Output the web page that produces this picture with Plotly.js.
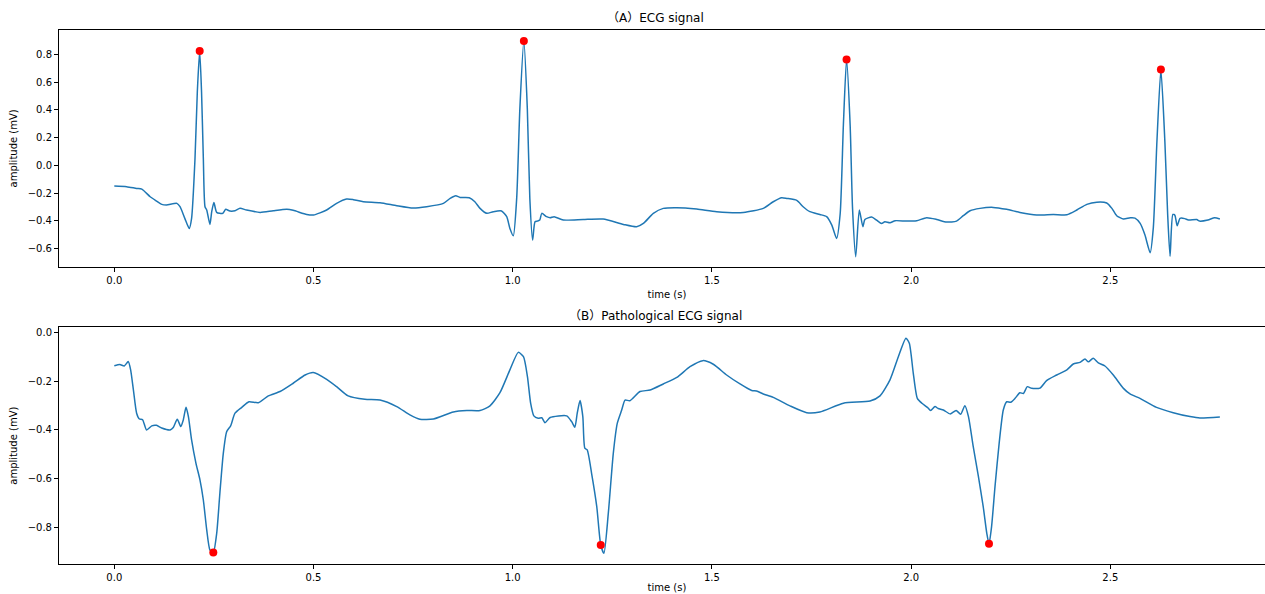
<!DOCTYPE html>
<html>
<head>
<meta charset="utf-8">
<script src="https://cdn.plot.ly/plotly-3.0.1.min.js"></script>
<style>
  html, body { margin: 0; padding: 0; overflow: hidden; background: #fff; }
  #chart { width: 1300px; height: 620px; }
</style>
</head>
<body>
<div id="chart"></div>
<script>
// ---- Data ----
const ecgTime = [0, 0.031, 0.056, 0.069, 0.090, 0.106, 0.119, 0.131, 0.157, 0.165,
  0.177, 0.188, 0.194, 0.2026, 0.2084, 0.2143, 0.219, 0.2235, 0.2277, 0.232,
  0.240, 0.2445, 0.250, 0.257, 0.272, 0.2796, 0.290, 0.303, 0.3155, 0.332,
  0.366, 0.399, 0.433, 0.449, 0.483, 0.500, 0.533, 0.558, 0.583, 0.600,
  0.625, 0.667, 0.709, 0.750, 0.784, 0.826, 0.843, 0.857, 0.868, 0.891,
  0.905, 0.918, 0.935, 0.951, 0.972, 0.985, 0.993, 1.0015, 1.010, 1.018,
  1.028, 1.0367, 1.043, 1.050, 1.056, 1.062, 1.068, 1.073, 1.085, 1.094,
  1.104, 1.127, 1.177, 1.227, 1.278, 1.311, 1.328, 1.353, 1.378, 1.412,
  1.462, 1.512, 1.579, 1.629, 1.654, 1.675, 1.688, 1.713, 1.729, 1.746,
  1.771, 1.788, 1.801, 1.813, 1.822, 1.830, 1.838, 1.847, 1.853, 1.861,
  1.870, 1.879, 1.884, 1.901, 1.913, 1.926, 1.934, 1.947, 1.960, 1.989,
  2.014, 2.039, 2.064, 2.089, 2.114, 2.131, 2.148, 2.173, 2.206, 2.240,
  2.273, 2.315, 2.357, 2.391, 2.416, 2.441, 2.466, 2.491, 2.504, 2.516,
  2.533, 2.550, 2.562, 2.575, 2.587, 2.600, 2.608, 2.617, 2.627, 2.637,
  2.644, 2.650, 2.657, 2.662, 2.668, 2.675, 2.687, 2.696, 2.717, 2.724,
  2.745, 2.762, 2.775];
const ecgAmp = [-0.150, -0.154, -0.167, -0.172, -0.227, -0.258, -0.282, -0.287, -0.275, -0.299,
  -0.383, -0.456, -0.383, 0.05, 0.53, 0.826, 0.53, 0.05, -0.299, -0.323,
  -0.427, -0.335, -0.268, -0.340, -0.347, -0.318, -0.330, -0.328, -0.311, -0.323,
  -0.340, -0.328, -0.318, -0.325, -0.355, -0.359, -0.323, -0.275, -0.244, -0.248,
  -0.263, -0.270, -0.292, -0.309, -0.299, -0.275, -0.239, -0.220, -0.232, -0.234,
  -0.263, -0.311, -0.347, -0.335, -0.330, -0.371, -0.456, -0.509, -0.239, 0.41,
  0.899, 0.41, -0.239, -0.540, -0.408, -0.403, -0.395, -0.347, -0.371, -0.379,
  -0.371, -0.395, -0.391, -0.388, -0.427, -0.444, -0.420, -0.347, -0.311, -0.306,
  -0.316, -0.335, -0.340, -0.311, -0.263, -0.234, -0.239, -0.253, -0.299, -0.335,
  -0.355, -0.371, -0.432, -0.528, -0.35, 0.29, 0.764, 0.29, -0.311, -0.660,
  -0.323, -0.444, -0.391, -0.374, -0.395, -0.420, -0.408, -0.415, -0.400, -0.403,
  -0.400, -0.379, -0.391, -0.410, -0.403, -0.364, -0.328, -0.311, -0.304, -0.318,
  -0.340, -0.359, -0.355, -0.357, -0.323, -0.282, -0.266, -0.272, -0.311, -0.364,
  -0.388, -0.379, -0.381, -0.420, -0.504, -0.631, -0.45, 0.17, 0.692, 0.17,
  -0.355, -0.658, -0.355, -0.360, -0.437, -0.383, -0.385, -0.395, -0.392, -0.403,
  -0.395, -0.379, -0.388];
const peakTime = [0.2143, 1.028, 1.838, 2.627];
const peakAmp = [0.826, 0.899, 0.764, 0.692];

const pathTime = [0, 0.014, 0.025, 0.035, 0.041, 0.048, 0.056, 0.063, 0.071, 0.081,
  0.094, 0.106, 0.119, 0.140, 0.148, 0.158, 0.167, 0.173, 0.180, 0.186,
  0.194, 0.205, 0.215, 0.2235, 0.232, 0.240, 0.2485, 0.257, 0.265, 0.2736,
  0.282, 0.292, 0.303, 0.320, 0.338, 0.3615, 0.3866, 0.416, 0.449, 0.479,
  0.4995, 0.533, 0.558, 0.587, 0.629, 0.667, 0.709, 0.742, 0.767, 0.801,
  0.851, 0.885, 0.918, 0.943, 0.968, 0.993, 1.014, 1.027, 1.037, 1.045,
  1.053, 1.064, 1.073, 1.081, 1.094, 1.1355, 1.148, 1.156, 1.162, 1.169,
  1.176, 1.181, 1.187, 1.198, 1.211, 1.221, 1.229, 1.240, 1.2525, 1.2626,
  1.2736, 1.282, 1.294, 1.3195, 1.345, 1.378, 1.412, 1.445, 1.477, 1.5035,
  1.537, 1.5706, 1.600, 1.612, 1.629, 1.654, 1.696, 1.738, 1.771, 1.830,
  1.897, 1.922, 1.947, 1.968, 1.987, 1.9955, 2.0055, 2.0156, 2.027, 2.041,
  2.049, 2.060, 2.068, 2.081, 2.098, 2.113, 2.1245, 2.135, 2.144, 2.156,
  2.169, 2.181, 2.190, 2.1955, 2.202, 2.2106, 2.221, 2.2314, 2.240, 2.250,
  2.261, 2.273, 2.282, 2.2917, 2.3027, 2.3235, 2.340, 2.3655, 2.391, 2.407,
  2.424, 2.4365, 2.445, 2.457, 2.470, 2.4866, 2.5075, 2.533, 2.5495, 2.5745,
  2.616, 2.658, 2.700, 2.725, 2.775];
const pathAmp = [-0.136, -0.131, -0.137, -0.119, -0.153, -0.236, -0.331, -0.355, -0.358, -0.400,
  -0.383, -0.381, -0.392, -0.400, -0.390, -0.356, -0.386, -0.360, -0.307, -0.345,
  -0.441, -0.537, -0.605, -0.688, -0.811, -0.893, -0.904, -0.825, -0.660, -0.496,
  -0.407, -0.383, -0.331, -0.307, -0.284, -0.288, -0.260, -0.242, -0.208, -0.174,
  -0.164, -0.192, -0.222, -0.260, -0.274, -0.277, -0.304, -0.338, -0.356, -0.355,
  -0.326, -0.320, -0.320, -0.301, -0.247, -0.153, -0.081, -0.099, -0.181, -0.290,
  -0.342, -0.352, -0.350, -0.370, -0.349, -0.342, -0.366, -0.389, -0.331, -0.279,
  -0.345, -0.475, -0.482, -0.578, -0.715, -0.873, -0.907, -0.742, -0.496, -0.372,
  -0.318, -0.277, -0.280, -0.242, -0.236, -0.211, -0.184, -0.140, -0.115, -0.130,
  -0.174, -0.211, -0.238, -0.240, -0.252, -0.266, -0.301, -0.329, -0.326, -0.290,
  -0.281, -0.260, -0.194, -0.099, -0.023, -0.044, -0.167, -0.270, -0.290, -0.307,
  -0.320, -0.304, -0.312, -0.318, -0.334, -0.320, -0.335, -0.300, -0.345, -0.469,
  -0.592, -0.715, -0.825, -0.868, -0.797, -0.633, -0.455, -0.318, -0.284, -0.286,
  -0.270, -0.247, -0.250, -0.222, -0.229, -0.228, -0.197, -0.174, -0.153, -0.129,
  -0.122, -0.108, -0.120, -0.105, -0.124, -0.137, -0.174, -0.229, -0.252, -0.270,
  -0.307, -0.329, -0.345, -0.351, -0.347];
const troughTime = [0.2485, 1.221, 2.1955];
const troughAmp = [-0.904, -0.873, -0.868];

const xTickVals = [0, 0.5, 1.0, 1.5, 2.0, 2.5];
const xTickText = ['0.0', '0.5', '1.0', '1.5', '2.0', '2.5'];
const yTickValsA = [-0.6, -0.4, -0.2, 0, 0.2, 0.4, 0.6, 0.8];
const yTickTextA = ['\u22120.6', '\u22120.4', '\u22120.2', '0.0', '0.2', '0.4', '0.6', '0.8'];
const yTickValsB = [-0.8, -0.6, -0.4, -0.2, 0];
const yTickTextB = ['\u22120.8', '\u22120.6', '\u22120.4', '\u22120.2', '0.0'];
const titleA = '\uFF08A\uFF09ECG signal';
const titleB = '\uFF08B\uFF09Pathological ECG signal';

// ---- Styling ----
const LINE = '#1f77b4';
const FONT = 'DejaVu Sans, Noto Sans CJK SC, sans-serif';
const W = 1300, H = 620, ML = 59, MR = 25, MT = 30, MB = 56;
const PH = H - MT - MB;
const botA = 266.7, topB = 327.3;
const domA = [(H - MB - botA) / PH, 1];
const domB = [0, (H - MB - topB) / PH];

const xCommon = {
  range: [-0.1388, 2.9134], tickvals: xTickVals, ticktext: xTickText,
  showgrid: false, zeroline: false, showline: true, mirror: true,
  linecolor: '#000', linewidth: 1, ticks: 'outside', ticklen: 4, tickcolor: '#000',
  tickfont: {family: FONT, size: 10, color: '#000'}
};
const yCommon = {
  showgrid: false, zeroline: false, showline: true, mirror: true,
  linecolor: '#000', linewidth: 1, ticks: 'outside', ticklen: 4, tickcolor: '#000',
  tickfont: {family: FONT, size: 10, color: '#000'},
  title: {text: 'amplitude (mV)', font: {family: FONT, size: 10, color: '#000'}, standoff: 8}
};

const traces = [
  {x: ecgTime, y: ecgAmp, type: 'scatter', mode: 'lines', xaxis: 'x', yaxis: 'y',
   line: {color: LINE, width: 1.5, shape: 'spline', smoothing: 0.6}},
  {x: peakTime, y: peakAmp, type: 'scatter', mode: 'markers', xaxis: 'x', yaxis: 'y',
   marker: {color: 'red', size: 8}},
  {x: pathTime, y: pathAmp, type: 'scatter', mode: 'lines', xaxis: 'x2', yaxis: 'y2',
   line: {color: LINE, width: 1.5, shape: 'spline', smoothing: 0.6}},
  {x: troughTime, y: troughAmp, type: 'scatter', mode: 'markers', xaxis: 'x2', yaxis: 'y2',
   marker: {color: 'red', size: 8}}
];

const layout = {
  width: W, height: H,
  margin: {l: ML, r: MR, t: MT, b: MB, pad: 0},
  paper_bgcolor: '#fff', plot_bgcolor: '#fff',
  showlegend: false,
  font: {family: FONT, size: 10, color: '#000'},
  xaxis: Object.assign({}, xCommon, {anchor: 'y', domain: [0, 1],
    title: {text: 'time (s)', font: {family: FONT, size: 10, color: '#000'}, standoff: 6}}),
  yaxis: Object.assign({}, yCommon, {anchor: 'x', domain: domA, range: [-0.7325, 0.978],
    tickvals: yTickValsA, ticktext: yTickTextA}),
  xaxis2: Object.assign({}, xCommon, {anchor: 'y2', domain: [0, 1],
    title: {text: 'time (s)', font: {family: FONT, size: 10, color: '#000'}, standoff: 1}}),
  yaxis2: Object.assign({}, yCommon, {anchor: 'x2', domain: domB, range: [-0.951, 0.022],
    tickvals: yTickValsB, ticktext: yTickTextB}),
  annotations: [
    {text: titleA, xref: 'paper', yref: 'paper', x: (655 - ML) / (W - ML - MR),
     y: (H - MB - 18) / PH, xanchor: 'center', yanchor: 'middle', showarrow: false,
     font: {family: FONT, size: 12, color: '#000'}},
    {text: titleB, xref: 'paper', yref: 'paper', x: (655 - ML) / (W - ML - MR),
     y: (H - MB - 316) / PH, xanchor: 'center', yanchor: 'middle', showarrow: false,
     font: {family: FONT, size: 12, color: '#000'}}
  ]
};

Plotly.newPlot('chart', traces, layout, {displayModeBar: false, staticPlot: true});
</script>
</body>
</html>
